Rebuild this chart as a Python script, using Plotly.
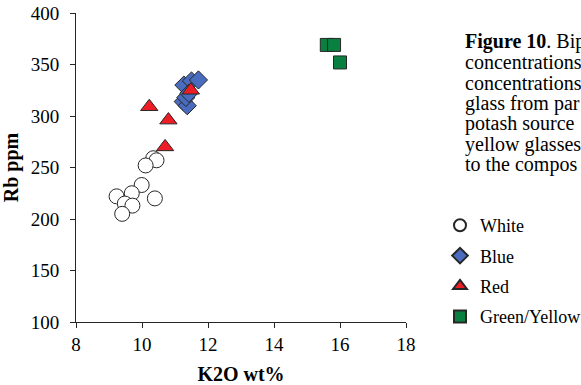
import plotly.graph_objects as go

# K2O wt% (x) and Rb ppm (y) for each glass colour group
white_k2o = [10.34, 10.44, 10.11, 9.99, 10.39, 9.23, 9.69, 9.48, 9.71, 9.40]
white_rb = [259, 257, 252, 233, 220, 222, 225, 215, 213, 205]

blue_k2o = [11.27, 11.50, 11.71, 11.25, 11.37, 11.33, 11.42]
blue_rb = [330, 334, 335, 314, 310, 318, 322]

red_k2o = [10.22, 10.80, 11.48, 10.70]
red_rb = [309, 296, 325, 270]

green_k2o = [15.60, 15.82, 16.0]
green_rb = [369, 369, 352]

x_ticks = [8, 10, 12, 14, 16, 18]
y_ticks = [100, 150, 200, 250, 300, 350, 400]

# caption text as visible at the right edge of the figure
caption_lines = [
    "<b>Figure 10</b>. Bip",
    "concentrations",
    "concentrations",
    "glass from par",
    "potash source",
    "yellow glasses",
    "to the compos",
]

FONT = "Liberation Serif, Times New Roman, serif"
LINE = "#262626"

fig = go.Figure()
fig.add_trace(go.Scatter(x=white_k2o, y=white_rb, mode="markers", name="White",
                         legendgroup="w",
                         marker=dict(symbol="circle", size=15, color="white",
                                     line=dict(color=LINE, width=1))))
fig.add_trace(go.Scatter(x=blue_k2o, y=blue_rb, mode="markers", name="Blue",
                         legendgroup="b",
                         marker=dict(symbol="diamond", size=14, color="#4a6cbf",
                                     line=dict(color=LINE, width=1))))
fig.add_trace(go.Scatter(x=red_k2o, y=red_rb, mode="markers", name="Red",
                         legendgroup="r",
                         marker=dict(symbol="triangle-up", size=15, color="#ee1c25",
                                     line=dict(color=LINE, width=1))))
fig.add_trace(go.Scatter(x=green_k2o, y=green_rb, mode="markers", name="Green/Yellow",
                         legendgroup="g",
                         marker=dict(symbol="square", size=13, color="#0a8040",
                                     line=dict(color=LINE, width=1))))

W, H = 581, 385
L, R, T, B = 76, 406, 13, 322


def px_x(p):
    return (p - L) / (R - L)


def px_y(p):
    return (B - p) / (B - T)


annotations = []
line_y = [41.5, 62, 82.5, 103, 123.5, 144, 164.5]
for txt, yy in zip(caption_lines, line_y):
    annotations.append(dict(text=txt, xref="paper", yref="paper", x=px_x(463),
                            y=px_y(yy), xanchor="left", yanchor="middle",
                            showarrow=False, align="left",
                            font=dict(family=FONT, size=20, color="black")))

fig.update_layout(
    width=W, height=H,
    margin=dict(l=L, r=W - R, t=T, b=H - B, pad=0, autoexpand=False),
    paper_bgcolor="white", plot_bgcolor="white",
    font=dict(family=FONT, size=19, color="black"),
    showlegend=True,
    legend=dict(x=px_x(440), y=px_y(207), xanchor="left", yanchor="top",
                font=dict(family=FONT, size=18, color="black"),
                tracegroupgap=4, bgcolor="rgba(0,0,0,0)", itemsizing="constant"),
    annotations=annotations,
    xaxis=dict(range=[8, 18], tickvals=x_ticks, ticks="outside", ticklen=5,
               tickcolor=LINE, showline=True, linecolor=LINE, linewidth=1,
               showgrid=False, zeroline=False, ticklabelstandoff=0, automargin=False,
               tickfont=dict(family=FONT, size=19),
               title=dict(text="<b>K2O wt%</b>", font=dict(family=FONT, size=20),
                          standoff=17)),
    yaxis=dict(range=[100, 400], tickvals=y_ticks, ticks="outside", ticklen=5,
               tickcolor=LINE, showline=True, linecolor=LINE, linewidth=1,
               showgrid=False, zeroline=False, ticklabelstandoff=7, automargin=False,
               tickfont=dict(family=FONT, size=19),
               title=dict(text="<b>Rb ppm</b>", font=dict(family=FONT, size=20),
                          standoff=8)),
)

fig.write_html("out.html")
